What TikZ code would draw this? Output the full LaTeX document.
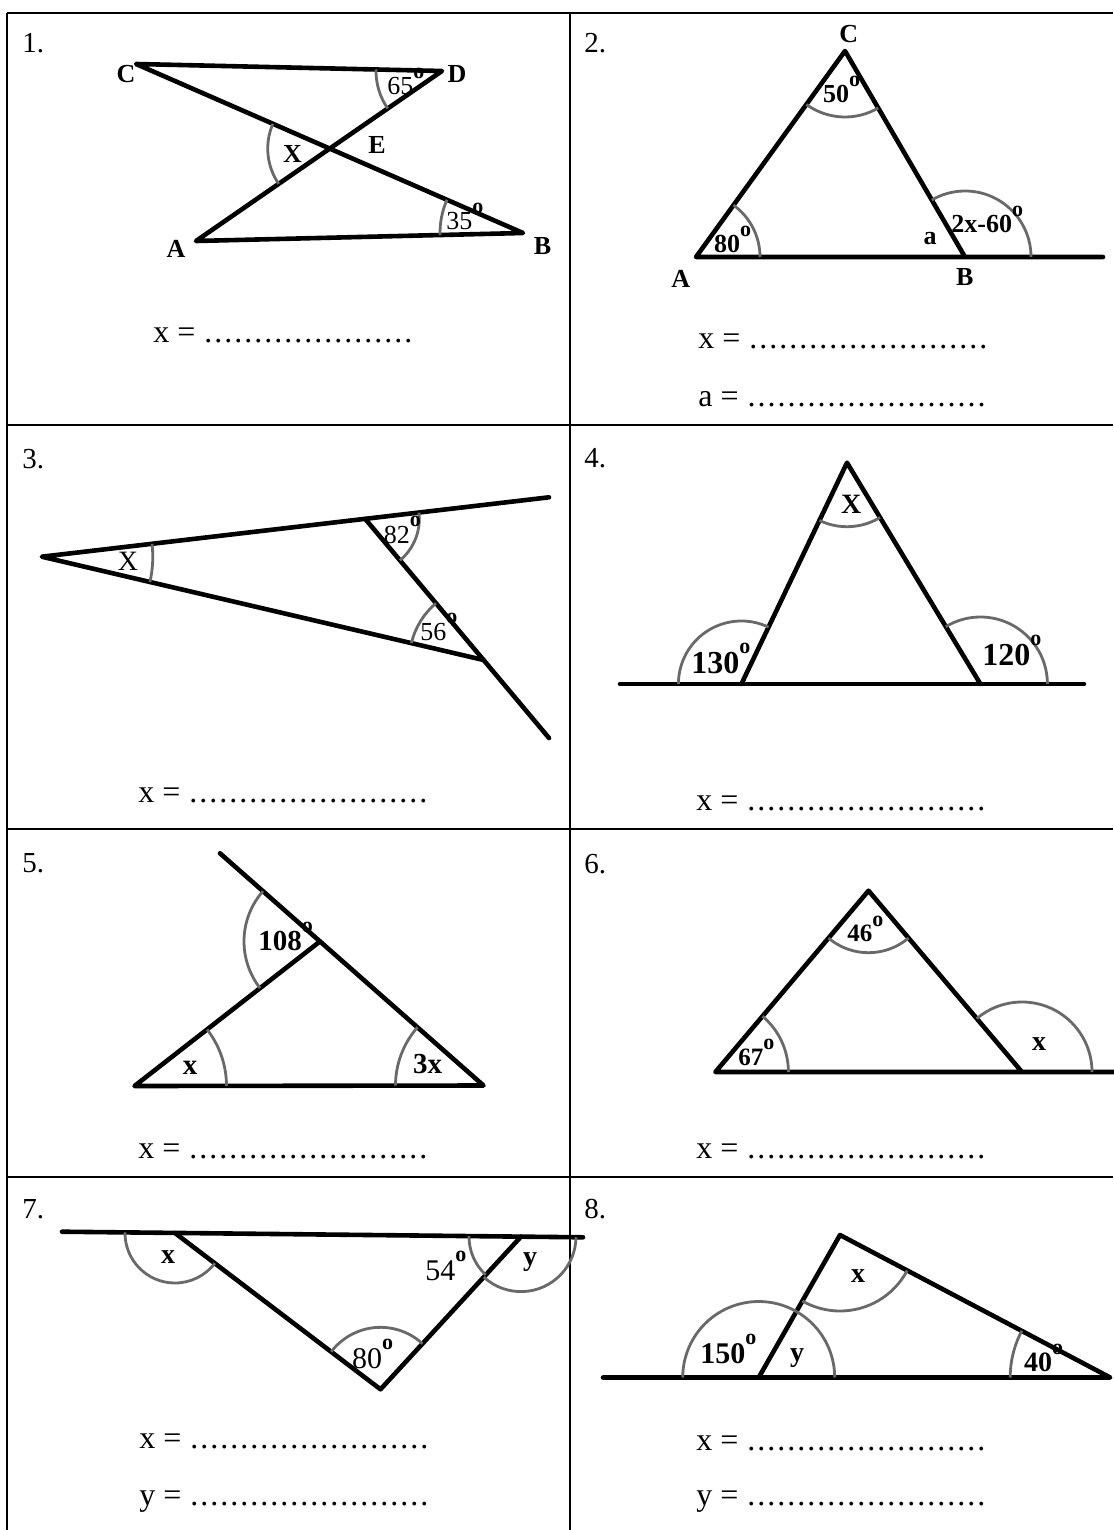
\documentclass[tikz,border=0pt]{standalone}
\usepackage{fontspec}
\setmainfont{Liberation Serif}
\usetikzlibrary{angles}
\definecolor{ink}{RGB}{0,0,0}
\definecolor{arcgray}{RGB}{105,105,105}
\newcommand{\dgr}{\raisebox{.62em}{\fontsize{11}{11}\selectfont\bfseries o}}
\newcommand{\ansdots}[1]{\makebox[#1]{\leaders\hbox to 5pt{\hss.\hss}\hfill}}
\tikzset{
  every picture/.style={x=0.5pt, y=0.5pt, color=ink},
  tablerule/.style={line width=1.4pt},
  fig/.style={line width=2.3pt, line cap=round, line join=round},
  arcm/.style={draw=arcgray, line width=1.4pt},
  qno/.style={anchor=base west, inner sep=0pt, font=\fontsize{14.5}{17}\selectfont},
  ans/.style={anchor=base west, inner sep=0pt, font=\fontsize{16}{19}\selectfont},
  vlbl/.style={inner sep=0pt, font=\fontsize{13}{15}\selectfont\bfseries},
  num/.style={anchor=base west, inner sep=0pt, font=\fontsize{13}{15}\selectfont\bfseries},
  numr/.style={num, font=\fontsize{13}{15}\selectfont},
}
\begin{document}
\begin{tikzpicture}
  \useasboundingbox (0,0) rectangle (1113,-1530);
  % table
  \draw[tablerule] (7,-13) -- (1113,-13);
  \draw[tablerule] (7,-13) -- (7,-1530);
  \draw[tablerule] (570,-13) -- (570,-1530);
  \foreach \r in {425,829,1177} { \draw[tablerule] (7,-\r) -- (1113,-\r); }
  \node[qno] (q1) at (22,-53) {1.};
  \node[qno] (q2) at (584,-53) {2.};
  \node[qno] (q3) at (22,-468) {3.};
  \node[qno] (q4) at (584,-467) {4.};
  \node[qno] (q5) at (22,-872) {5.};
  \node[qno] (q6) at (584,-873) {6.};
  \node[qno] (q7) at (22,-1218) {7.};
  \node[qno] (q8) at (584,-1218) {8.};

  % 1. crossed segments
  \coordinate (p1C) at (136,-64);
  \coordinate (p1D) at (442,-71);
  \coordinate (p1A) at (196,-241);
  \coordinate (p1B) at (523,-233);
  \coordinate (p1E) at (intersection of p1C--p1B and p1D--p1A);
  \draw[fig] (p1C) -- (p1D) -- (p1A) -- (p1B) -- cycle;
  \pic[arcm, angle radius=31pt] {angle=p1C--p1E--p1A};
  \pic[arcm, angle radius=33pt] {angle=p1C--p1D--p1A};
  \pic[arcm, angle radius=41.5pt] {angle=p1C--p1B--p1A};
  \node[vlbl] (l1C) at (126,-74) {C};
  \node[vlbl] (l1D) at (457,-74.5) {D};
  \node[vlbl] (l1E) at (377,-145) {E};
  \node[vlbl] (l1A) at (176,-248.5) {A};
  \node[vlbl] (l1B) at (542.6,-246.5) {B};
  \node[vlbl] (l1X) at (292.6,-153.5) {X};
  \node[numr] (n1a) at (387,-95) {65\dgr};
  \node[numr] (n1b) at (446,-230) {35\dgr};
  \node[ans] (a1x) at (153,-342) {x = \ansdots{109pt}};

  % 2. exterior angle at B
  \coordinate (p2C) at (845,-51);
  \coordinate (p2A) at (696,-257);
  \coordinate (p2B) at (965,-257);
  \coordinate (p2R) at (1103,-257);
  \draw[fig] (p2B) -- (p2C) -- (p2A) -- (p2R);
  \pic[arcm, angle radius=33pt] {angle=p2A--p2C--p2B};
  \pic[arcm, angle radius=32pt] {angle=p2B--p2A--p2C};
  \pic[arcm, angle radius=33pt] {angle=p2R--p2B--p2C};
  \node[vlbl] (l2C) at (848.7,-34) {C};
  \node[vlbl] (l2A) at (680.7,-278.5) {A};
  \node[vlbl] (l2B) at (964.8,-277.5) {B};
  \node[vlbl] (l2a) at (930,-238.5) {a};
  \node[num] (n2a) at (822.8,-103) {50\dgr};
  \node[num] (n2b) at (713.7,-253) {80\dgr};
  \node[num] (n2c) at (951,-233) {2x-60\dgr};
  \node[ans] (a2x) at (698,-348) {x = \ansdots{123.5pt}};
  \node[ans] (a2a) at (698,-406) {a = \ansdots{123.5pt}};

  % 3.
  \coordinate (p3P) at (41.8,-556.7);
  \coordinate (p3Q) at (365.3,-519);
  \coordinate (p3T) at (549,-497.3);
  \coordinate (p3R) at (483.5,-660);
  \coordinate (p3S) at (549,-738);
  \draw[fig] (p3T) -- (p3P) -- (p3R);
  \draw[fig] (p3Q) -- (p3S);
  \pic[arcm, angle radius=55.5pt] {angle=p3R--p3P--p3Q};
  \pic[arcm, angle radius=27pt] {angle=p3R--p3Q--p3T};
  \pic[arcm, angle radius=37pt] {angle=p3Q--p3R--p3P};
  \node[vlbl, font=\fontsize{14}{15}\selectfont] (l3X) at (128,-561.5) {X};
  \node[numr] (n3a) at (383.5,-543) {82\dgr};
  \node[numr] (n3b) at (420,-640) {56\dgr};
  \node[ans] (a3x) at (138,-802) {x = \ansdots{123.5pt}};

  % 4.
  \coordinate (p4T) at (847,-462.7);
  \coordinate (p4L) at (741.4,-684);
  \coordinate (p4M) at (980.4,-684);
  \coordinate (p4W) at (620,-684);
  \coordinate (p4E) at (1084,-684);
  \draw[fig] (p4W) -- (p4E);
  \draw[fig] (p4L) -- (p4T) -- (p4M);
  \pic[arcm, angle radius=32pt] {angle=p4L--p4T--p4M};
  \pic[arcm, angle radius=31.5pt] {angle=p4T--p4L--p4W};
  \pic[arcm, angle radius=33.5pt] {angle=p4E--p4M--p4T};
  \node[vlbl, font=\fontsize{14}{16}\selectfont\bfseries] (l4X) at (851.3,-504) {X};
  \node[num, font=\fontsize{16}{18}\selectfont\bfseries] (n4a) at (691,-673.3) {130\dgr};
  \node[num, font=\fontsize{16}{18}\selectfont\bfseries] (n4b) at (982,-665) {120\dgr};
  \node[ans] (a4x) at (696,-810) {x = \ansdots{123.5pt}};

  % 5.
  \coordinate (p5U) at (220,-853.3);
  \coordinate (p5W) at (483.5,-1085.5);
  \coordinate (p5Z) at (134.5,-1086);
  \coordinate (p5V) at (320,-941.4);
  \draw[fig] (p5U) -- (p5W) -- (p5Z) -- (p5V);
  \pic[arcm, angle radius=38pt] {angle=p5U--p5V--p5Z};
  \pic[arcm, angle radius=46pt] {angle=p5W--p5Z--p5V};
  \pic[arcm, angle radius=44pt] {angle=p5V--p5W--p5Z};
  \node[num, font=\fontsize{14.5}{16}\selectfont\bfseries] (n5a) at (258,-950) {108\dgr};
  \node[vlbl, font=\fontsize{14.5}{16}\selectfont\bfseries] (l5x) at (190,-1067.5) {x};
  \node[num, font=\fontsize{14.5}{16}\selectfont\bfseries] (n5b) at (412.6,-1073.3) {3x};
  \node[ans] (a5x) at (138,-1158) {x = \ansdots{123.5pt}};

  % 6.
  \coordinate (p6T) at (868.5,-890.7);
  \coordinate (p6L) at (715.4,-1072);
  \coordinate (p6M) at (1022,-1072);
  \coordinate (p6E) at (1114,-1072);
  \draw[fig] (p6E) -- (p6L) -- (p6T) -- (p6M);
  \pic[arcm, angle radius=31pt] {angle=p6L--p6T--p6M};
  \pic[arcm, angle radius=36.5pt] {angle=p6M--p6L--p6T};
  \pic[arcm, angle radius=35pt] {angle=p6E--p6M--p6T};
  \node[num, font=\fontsize{12.5}{14}\selectfont\bfseries] (n6a) at (847,-941.7) {46\dgr};
  \node[num, font=\fontsize{12.5}{14}\selectfont\bfseries] (n6b) at (738,-1065) {67\dgr};
  \node[vlbl, font=\fontsize{14}{16}\selectfont\bfseries] (l6x) at (1039.2,-1044.2) {x};
  \node[ans] (a6x) at (696,-1158) {x = \ansdots{123.5pt}};

  % 7.
  \coordinate (p7S) at (62,-1231.7);
  \coordinate (p7E) at (583,-1237.3);
  \coordinate (p7F) at (175,-1233);
  \coordinate (p7H) at (521,-1236.6);
  \coordinate (p7G) at (380.5,-1389.3);
  \draw[fig] (p7S) -- (p7E);
  \draw[fig] (p7F) -- (p7G) -- (p7H);
  \pic[arcm, angle radius=25pt] {angle=p7S--p7F--p7G};
  \pic[arcm, angle radius=26pt] {angle=p7F--p7H--p7G};
  \pic[arcm, angle radius=27.5pt] {angle=p7G--p7H--p7E};
  \pic[arcm, angle radius=31pt] {angle=p7H--p7G--p7F};
  \node[vlbl, font=\fontsize{14}{16}\selectfont\bfseries] (l7x) at (168,-1256.7) {x};
  \node[vlbl, font=\fontsize{14}{16}\selectfont\bfseries] (l7y) at (530,-1262) {y};
  \node[numr, font=\fontsize{15}{17}\selectfont] (n7a) at (425,-1280) {54\dgr};
  \node[numr, font=\fontsize{15}{17}\selectfont] (n7b) at (351.6,-1368) {80\dgr};
  \node[ans] (a7x) at (139,-1448) {x = \ansdots{123pt}};
  \node[ans] (a7y) at (139,-1505) {y = \ansdots{123pt}};

  % 8.
  \coordinate (p8W) at (603,-1377.5);
  \coordinate (p8J) at (758.7,-1377.5);
  \coordinate (p8K) at (840,-1235);
  \coordinate (p8N) at (1110.2,-1377.5);
  \draw[fig] (p8W) -- (p8N) -- (p8K) -- (p8J);
  \pic[arcm, angle radius=38pt] {angle=p8K--p8J--p8W};
  \pic[arcm, angle radius=38pt] {angle=p8N--p8J--p8K};
  \pic[arcm, angle radius=38pt] {angle=p8J--p8K--p8N};
  \pic[arcm, angle radius=50pt] {angle=p8K--p8N--p8J};
  \node[vlbl, font=\fontsize{14}{16}\selectfont\bfseries] (l8x) at (858,-1276) {x};
  \node[vlbl, font=\fontsize{14}{16}\selectfont\bfseries] (l8y) at (797,-1358) {y};
  \node[num, font=\fontsize{15}{17}\selectfont\bfseries] (n8a) at (700,-1363.3) {150\dgr};
  \node[num, font=\fontsize{14}{16}\selectfont\bfseries] (n8b) at (1023.6,-1371.7) {40\dgr};
  \node[ans] (a8x) at (696,-1450) {x = \ansdots{123.5pt}};
  \node[ans] (a8y) at (696,-1505) {y = \ansdots{123.5pt}};
\end{tikzpicture}
\end{document}
